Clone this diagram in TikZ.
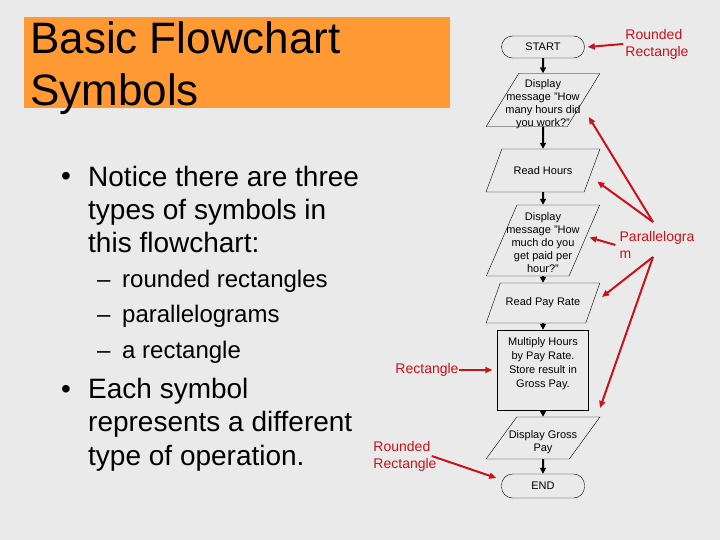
\documentclass[tikz,border=0pt]{standalone}
\usepackage{fontspec}
\setmainfont{Liberation Sans}
\usetikzlibrary{shapes.geometric,arrows.meta}
\definecolor{slidebg}{RGB}{234,234,234}
\definecolor{titleorange}{RGB}{255,153,51}
\definecolor{notered}{RGB}{200,18,28}
\tikzset{
  term/.style={draw,rounded corners=11pt,minimum width=83pt,inner sep=0pt,font=\fontsize{11}{13}\selectfont},
  io/.style={draw,trapezium,trapezium left angle=66,trapezium right angle=114,trapezium stretches=true,
    minimum width=114pt,inner xsep=-20pt,inner ysep=0pt,align=center,font=\fontsize{11}{13}\selectfont},
  proc/.style={draw,minimum width=91pt,minimum height=80pt,inner sep=0pt,align=center,font=\fontsize{11}{14}\selectfont},
  flow/.style={-{Triangle[length=6pt,width=6pt]},line width=2pt},
  note/.style={text=notered,align=left,inner sep=0pt,font=\fontsize{14}{17}\selectfont},
  noteline/.style={-{Triangle[length=7pt,width=6pt]},line width=2pt,draw=notered}
}
\begin{document}
\begin{tikzpicture}[x=1pt,y=-1pt]
\fill[slidebg] (0,0) rectangle (720,540);
\useasboundingbox (0,0) rectangle (720,540);
\fill[titleorange] (24,17) rectangle (450,108);
\node[anchor=base west,align=left,inner sep=0pt,font=\fontsize{44}{52}\selectfont] (title) at (30,106) {Basic Flowchart\\Symbols};
\node[anchor=base west,inner sep=0pt,font=\fontsize{28}{33}\selectfont] (dot1) at (61,186) {•};
\node[anchor=base west,align=left,inner sep=0pt,font=\fontsize{28}{33}\selectfont] (notice) at (88,252) {Notice there are three\\types of symbols in\\this flowchart:};
\node[anchor=base west,align=left,inner sep=0pt,font=\fontsize{24}{35.5}\selectfont] (dashes) at (97,358) {–\\–\\–};
\node[anchor=base west,align=left,inner sep=0pt,font=\fontsize{24}{35.5}\selectfont] (kinds) at (122,358) {rounded rectangles\\parallelograms\\a rectangle};
\node[anchor=base west,inner sep=0pt,font=\fontsize{28}{33.5}\selectfont] (dot2) at (61,398) {•};
\node[anchor=base west,align=left,inner sep=0pt,font=\fontsize{28}{33.5}\selectfont] (each) at (88,465) {Each symbol\\represents a different\\type of operation.};

\node[term,minimum height=22pt] (start) at (543,47) {START};
\node[io,minimum height=52pt,text height=53pt,text depth=-1pt] (askhours) at (543,100) {Display\\message "How\\many hours did\\you work?"};
\node[io,minimum height=43pt] (readhours) at (543,170.5) {Read Hours};
\node[io,minimum height=71pt,text height=64pt,trapezium left angle=73,trapezium right angle=107] (askrate) at (543,240.5) {Display\\message "How\\much do you\\get paid per\\hour?"};
\node[io,minimum height=40pt,trapezium left angle=61,trapezium right angle=119] (readrate) at (543,303) {Read Pay Rate};
\node[proc,text depth=14pt] (multiply) at (543,370) {Multiply Hours\\by Pay Rate.\\Store result in\\Gross Pay.};
\node[io,minimum height=42pt,text height=29pt,trapezium left angle=62,trapezium right angle=118] (showpay) at (543,438) {Display Gross\\Pay};
\node[term,minimum height=24pt] (end) at (543,486) {END};
\draw[flow] (start.south) -- (askhours.north);
\draw[flow] (askhours.south) -- (readhours.north);
\draw[flow] (readhours.south) -- (askrate.north);
\draw[flow] (askrate.south) -- (readrate.north);
\draw[flow] (readrate.south) -- (multiply.north);
\draw[flow] (multiply.south) -- (showpay.north);
\draw[flow] (showpay.south) -- (end.north);

\node[note] (rrtop) at (657,44) {Rounded\\Rectangle};
\node[note] (paralbl) at (657,245) {Parallelogra\\m};
\node[note] (rectlbl) at (427,370) {Rectangle};
\node[note] (rrbot) at (405,456) {Rounded\\Rectangle};
\coordinate (paraup) at (653,222);
\coordinate (paradown) at (653,257);
\draw[noteline] ([xshift=-2pt]rrtop.west) -- ([xshift=3pt]start.east);
\draw[noteline] (paraup) -- ([shift={(5,17)}]askhours.east);
\draw[noteline] (paraup) -- ([shift={(5,11)}]readhours.east);
\draw[noteline] ([xshift=-4pt]paralbl.west) -- ([shift={(5,-3)}]askrate.east);
\draw[noteline] (paradown) -- ([shift={(9,-6)}]readrate.east);
\draw[noteline] (paradown) -- ([shift={(57,-30)}]showpay.center);
\draw[noteline] (rectlbl.east) -- ([xshift=-5pt]multiply.west);
\draw[noteline] ([xshift=-5pt]rrbot.east) -- ([shift={(-5,-8)}]end.west);
\end{tikzpicture}
\end{document}
